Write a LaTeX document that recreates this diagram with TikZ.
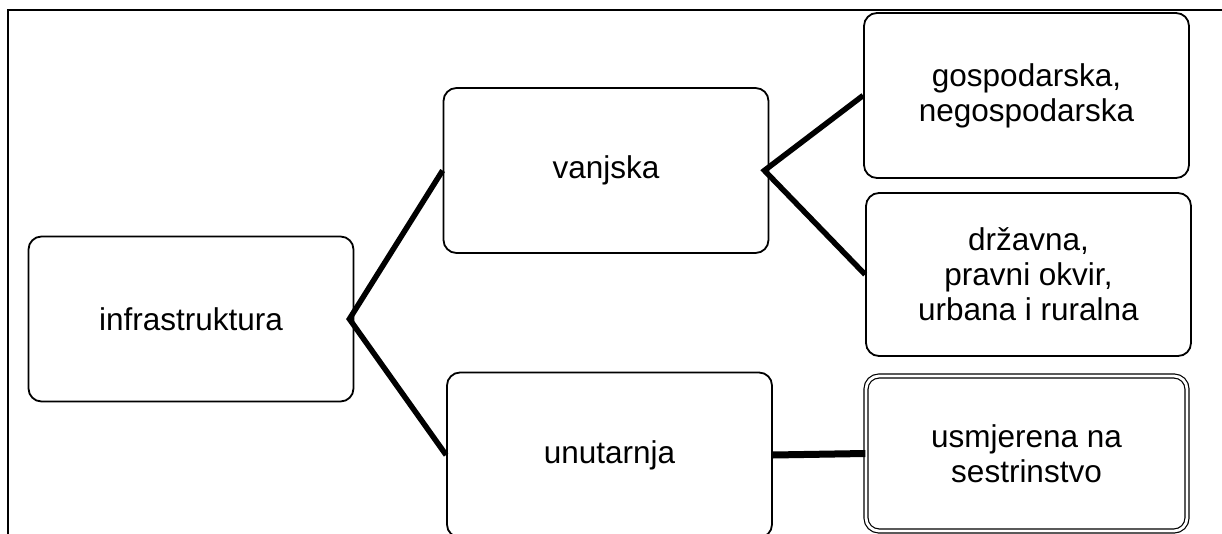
\documentclass[tikz,border=0pt]{standalone}
\usepackage{fontspec}
\setmainfont{Liberation Sans}
\begin{document}
\begin{tikzpicture}[x=1pt,y=-1pt,
  every node/.style={align=center,font=\fontsize{31.5}{35}\selectfont},
  box/.style={draw,line width=1.8pt,rounded corners=13pt,minimum width=325pt,minimum height=165pt,inner sep=0pt},
  link/.style={line width=5.5pt}]

\useasboundingbox(0,0)rectangle(1222,534);
\draw[line width=2.5pt](8,534)--(8,10)--(1222,10);

\node[box](infra) at (191,319){infrastruktura};
\node[box](vanj) at (606,170.5){vanjska};
\node[box](unut) at (609.5,455){unutarnja};
\node[box](gosp) at (1026.5,95.5){gospodarska,\\negospodarska};
\node[box,minimum height=163pt](drz) at (1028.5,274.5){državna,\\pravni okvir,\\urbana i ruralna};
\node[box,line width=1.2pt,double,double distance=2.8pt,minimum width=321pt,minimum height=155pt](usmj) at (1026.5,453.5){usmjerena na\\sestrinstvo};

\draw[link](vanj.west)--([xshift=-5pt]infra.east)--(unut.west);
\draw[link](gosp.west)--([xshift=-5pt]vanj.east)--(drz.west);
\draw[line width=7pt](unut.east)--(usmj.west);

\end{tikzpicture}
\end{document}
